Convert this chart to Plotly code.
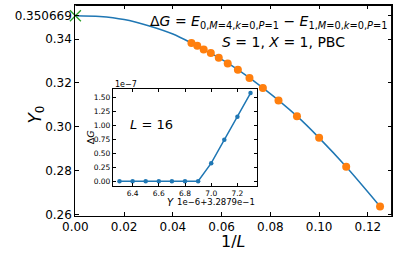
import plotly.graph_objects as go

W, H = 399, 261

# ---- data ----
L_vals = [8, 9, 10, 11, 12, 13, 14, 15, 16, 17, 18, 19, 20, 21]
Y0_vals = [0.2636, 0.2817, 0.2949, 0.3048, 0.3120, 0.3177, 0.3222,
           0.3260, 0.3288, 0.3315, 0.3336, 0.3352, 0.3369, 0.3382]
inv_L = [1.0 / L for L in L_vals]

# fitted curve samples (1/L, Y0)
fit_x = [0.0, 0.01, 0.02, 0.03, 0.04, 1/21, 1/19, 1/17, 1/15, 1/13, 1/11, 1/10, 1/9, 1/8]
fit_y = [0.350669, 0.3503, 0.3489, 0.3461, 0.3423, 0.3382, 0.3352, 0.3315,
         0.3260, 0.3177, 0.3048, 0.2949, 0.2817, 0.2636]

extrap_x = [0.0]
extrap_y = [0.350669]

main_ytickvals = [0.26, 0.28, 0.30, 0.32, 0.34, 0.350669]
main_yticktext = ["0.26", "0.28", "0.30", "0.32", "0.34", "0.350669"]
main_xtickvals = [0.00, 0.02, 0.04, 0.06, 0.08, 0.10, 0.12]
main_xticktext = ["0.00", "0.02", "0.04", "0.06", "0.08", "0.10", "0.12"]

# inset: Y offset (units 1e-6, offset 3.2879e-1) vs Delta G (units 1e-7)
inset_x = [6.3, 6.4, 6.5, 6.6, 6.7, 6.8, 6.9, 7.0, 7.1, 7.2, 7.3]
inset_y = [0, 0, 0, 0, 0, 0, 0, 0.32, 0.74, 1.15, 1.57]
inset_xtickvals = [6.4, 6.6, 6.8, 7.0, 7.2]
inset_xticktext = ["6.4", "6.6", "6.8", "7.0", "7.2"]
inset_ytickvals = [0, 0.25, 0.5, 0.75, 1.0, 1.25, 1.5]
inset_yticktext = ["0.00", "0.25", "0.50", "0.75", "1.00", "1.25", "1.50"]

BLUE = "#1f77b4"
ORANGE = "#ff7f0e"
GREEN = "#2ca02c"
FONT = "DejaVu Sans"

def px_x(p):
    return p / W

def px_y(p):
    return 1 - p / H

fig = go.Figure()

fig.add_trace(go.Scatter(x=fit_x, y=fit_y, mode="lines",
                         line=dict(color=BLUE, width=1.5, shape="spline", smoothing=0.8),
                         xaxis="x", yaxis="y", showlegend=False, cliponaxis=False))
fig.add_trace(go.Scatter(x=inv_L, y=Y0_vals, mode="markers",
                         marker=dict(color=ORANGE, size=8),
                         xaxis="x", yaxis="y", showlegend=False))
fig.add_trace(go.Scatter(x=extrap_x, y=extrap_y, mode="markers",
                         marker=dict(symbol="x-thin", size=11,
                                     line=dict(color=GREEN, width=1.3)),
                         xaxis="x", yaxis="y", showlegend=False, cliponaxis=False))

fig.add_trace(go.Scatter(x=inset_x, y=inset_y, mode="lines+markers",
                         line=dict(color=BLUE, width=1.5),
                         marker=dict(color=BLUE, size=4.5),
                         xaxis="x2", yaxis="y2", showlegend=False, cliponaxis=False))

# main axes pixel box
mx0, mx1, my0, my1 = 64.5, 392, 5, 220.7
# inset pixel box
ix0, ix1, iy0, iy1 = 103.3, 252.3, 91, 190

axis_common = dict(showgrid=False, zeroline=False, showline=True, linecolor="black",
                   linewidth=1.2, mirror="ticks", ticks="inside", tickcolor="black")

fig.update_layout(
    width=W, height=H, autosize=False,
    margin=dict(l=0, r=0, t=0, b=0),
    paper_bgcolor="white", plot_bgcolor="white",
    font=dict(family=FONT, color="black"),
    xaxis=dict(domain=[px_x(mx0), px_x(mx1)], range=[0.0, 0.1300], anchor="y",
               tickvals=main_xtickvals, ticktext=main_xticktext,
               ticklen=4, tickwidth=1, tickfont=dict(size=12, family=FONT), **axis_common),
    yaxis=dict(domain=[px_y(my1), px_y(my0)], range=[0.2594, 0.3556], anchor="x",
               tickvals=main_ytickvals, ticktext=main_yticktext,
               ticklen=4, tickwidth=1, tickfont=dict(size=12, family=FONT), **axis_common),
    xaxis2=dict(domain=[px_x(ix0), px_x(ix1)], range=[6.25, 7.35], anchor="y2",
                tickvals=inset_xtickvals, ticktext=inset_xticktext,
                ticklen=3, tickwidth=1, tickfont=dict(size=7.5, family=FONT), **axis_common),
    yaxis2=dict(domain=[px_y(iy1), px_y(iy0)], range=[-0.08, 1.645], anchor="x2",
                tickvals=inset_ytickvals, ticktext=inset_yticktext,
                ticklen=3, tickwidth=1, tickfont=dict(size=7.5, family=FONT), **axis_common),
    shapes=[
        dict(type="line", xref="paper", yref="paper",
             x0=px_x(mx0), x1=px_x(mx1), y0=px_y(my0 + 0.5), y1=px_y(my0 + 0.5),
             line=dict(color="black", width=1.4), layer="above"),
        dict(type="line", xref="paper", yref="paper",
             x0=px_x(mx1 - 0.5), x1=px_x(mx1 - 0.5), y0=px_y(my1), y1=px_y(my0),
             line=dict(color="black", width=1.4), layer="above"),
    ],
)

ann = []
def add(text, x, y, size, xanchor="center", yanchor="middle", angle=0):
    ann.append(dict(text=text, x=px_x(x), y=px_y(y), xref="paper", yref="paper",
                    showarrow=False, xanchor=xanchor, yanchor=yanchor, textangle=angle,
                    font=dict(size=size, family=FONT, color="black")))

add("Δ<i>G</i> = <i>E</i><sub>0,<i>M</i>=4,<i>k</i>=0,<i>P</i>=1</sub> − "
    "<i>E</i><sub>1,<i>M</i>=0,<i>k</i>=0,<i>P</i>=1</sub>", 140, 23, 14, xanchor="left")
add("<i>S</i> = 1, <i>X</i> = 1, PBC", 214, 43, 14, xanchor="left")
add("<i>Y</i><sub>0</sub>", 24, 117, 17, angle=-90)
add("1/<i>L</i>", 228, 247, 16)
add("<i>L</i> = 16", 143, 127, 13)
add("Δ<i>G</i>", 80, 140, 9.5, angle=-90)
add("1e−7", 103, 86, 8, xanchor="left")
add("<i>Y</i>", 163, 207, 10)
add("1e−6+3.2879e−1", 252.5, 207, 8.5, xanchor="right")
fig.update_layout(annotations=ann)

fig.write_html("out.html", config={"displayModeBar": False},
               post_script="document.body.style.margin='0px';document.body.style.overflow='hidden';")
